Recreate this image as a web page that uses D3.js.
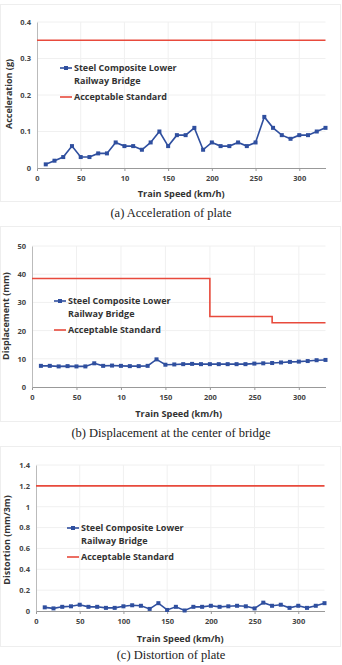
<!DOCTYPE html>
<html>
<head>
<meta charset="utf-8">
<script src="https://cdn.jsdelivr.net/npm/d3@7"></script>
<style>
  body { margin: 0; background: #fff; }
  svg { display: block; }
  .tick text { font-family: "Open Sans", sans-serif; font-weight: 700; font-size: 7.5px; fill: #444; }
</style>
</head>
<body>
<svg id="fig" width="342" height="665"></svg>
<script>
// train speeds (km/h)
const speeds = d3.range(10, 331, 10);

// (a) acceleration of plate (g)
const accel = [0.01, 0.02, 0.03, 0.06, 0.03, 0.03, 0.04, 0.04, 0.07, 0.06, 0.06, 0.05, 0.07, 0.10, 0.06, 0.09, 0.09,
  0.11, 0.05, 0.07, 0.06, 0.06, 0.07, 0.06, 0.07, 0.14, 0.11, 0.09, 0.08, 0.09, 0.09, 0.10, 0.11];
const accelLimit = [[0, 0.35], [330, 0.35]];

// (b) displacement at center (mm)
const disp = [7.5, 7.5, 7.3, 7.4, 7.3, 7.3, 8.4, 7.5, 7.6, 7.5, 7.4, 7.4, 7.5, 9.8, 7.9, 8.0, 8.1,
  8.2, 8.1, 8.1, 8.1, 8.1, 8.1, 8.1, 8.3, 8.4, 8.5, 8.7, 8.9, 9.0, 9.2, 9.5, 9.6];
const dispLimit = [[0, 38.5], [200, 38.5], [200, 25], [270, 25], [270, 22.8], [330, 22.8]];

// (c) distortion of plate (mm/3m)
const dist = [0.035, 0.025, 0.04, 0.045, 0.06, 0.04, 0.04, 0.03, 0.03, 0.045, 0.055, 0.05, 0.02, 0.075, 0.01, 0.04, 0.005,
  0.04, 0.04, 0.05, 0.04, 0.045, 0.05, 0.045, 0.025, 0.08, 0.05, 0.06, 0.03, 0.05, 0.03, 0.05, 0.075];
const distLimit = [[0, 1.2], [330, 1.2]];

const xTicks = [0, 50, 100, 150, 200, 250, 300];
const xTickLabelsAB = ["0", "50", "10", "150", "200", "250", "300"];
const xTickLabelsC = ["0", "50", "100", "150", "200", "250", "300"];

const blue = "#2f4f9f";
const red = "#e84a3c";
const svg = d3.select("#fig");

function drawChart(c) {
  const g = svg.append("g");

  g.append("rect")
    .attr("x", 0.5).attr("y", c.panelTop + 0.5)
    .attr("width", 340).attr("height", c.panelBottom - c.panelTop)
    .attr("fill", "none").attr("stroke", "#eeeeee");

  const x = d3.scaleLinear().domain([0, 330]).range([c.left, c.right]);
  const y = d3.scaleLinear().domain([0, c.yMax]).range([c.bottom, c.top]);

  // grid
  g.append("g").selectAll("line").data(c.yTicks.slice(1)).join("line")
    .attr("x1", c.left).attr("x2", c.right)
    .attr("y1", d => y(d)).attr("y2", d => y(d))
    .attr("stroke", "#f0f0f0");
  g.append("g").selectAll("line").data(xTicks.slice(1)).join("line")
    .attr("x1", d => x(d)).attr("x2", d => x(d))
    .attr("y1", c.top).attr("y2", c.bottom)
    .attr("stroke", "#f0f0f0");

  const xAxis = g.append("g")
    .attr("transform", `translate(0,${c.bottom})`)
    .call(d3.axisBottom(x).tickValues(xTicks).tickSize(3).tickSizeOuter(0)
      .tickFormat((d, i) => c.xLabels[i]));
  xAxis.select(".domain").attr("stroke", "#999");
  xAxis.selectAll(".tick line").attr("stroke", "#999");
  xAxis.selectAll(".tick text").attr("dy", "0.9em");

  const yAxis = g.append("g")
    .attr("transform", `translate(${c.left},0)`)
    .call(d3.axisLeft(y).tickValues(c.yTicks).tickSize(0).tickPadding(6)
      .tickFormat(c.yFormat));
  yAxis.select(".domain").attr("stroke", "#bbb");

  // limit line
  g.append("path")
    .datum(c.limit)
    .attr("fill", "none").attr("stroke", red).attr("stroke-width", 1.6)
    .attr("d", d3.line().x(d => x(d[0])).y(d => y(d[1])));

  // series
  const pts = speeds.map((s, i) => [s, c.values[i]]);
  g.append("path")
    .datum(pts)
    .attr("fill", "none").attr("stroke", blue).attr("stroke-width", 1.6)
    .attr("d", d3.line().x(d => x(d[0])).y(d => y(d[1])));
  g.append("g").selectAll("rect").data(pts).join("rect")
    .attr("x", d => x(d[0]) - 2).attr("y", d => y(d[1]) - 2)
    .attr("width", 4).attr("height", 4).attr("fill", blue);

  // axis titles
  g.append("text")
    .attr("x", (c.left + c.right) / 2).attr("y", c.xTitleY)
    .attr("text-anchor", "middle")
    .style("font", "700 9.2px 'Open Sans', sans-serif").attr("fill", "#333")
    .text("Train Speed (km/h)");
  g.append("text")
    .attr("transform", `translate(${c.yTitleX},${c.yTitleY}) rotate(-90)`)
    .attr("text-anchor", "middle")
    .style("font", "700 9px 'Open Sans', sans-serif").attr("fill", "#333")
    .text(c.yTitle);

  // legend
  const lg = g.append("g").attr("transform", `translate(${c.legX},${c.legY})`)
    .style("font", "700 9px 'Open Sans', sans-serif").attr("fill", "#333");
  lg.append("line").attr("x1", 0).attr("x2", 12).attr("y1", 0).attr("y2", 0)
    .attr("stroke", blue).attr("stroke-width", 1.6);
  lg.append("rect").attr("x", 4).attr("y", -2).attr("width", 4).attr("height", 4).attr("fill", blue);
  lg.append("text").attr("x", 14).attr("y", 3.2).text("Steel Composite Lower");
  lg.append("text").attr("x", 14).attr("y", 16.2).text("Railway Bridge");
  lg.append("line").attr("x1", 0).attr("x2", 12).attr("y1", 29).attr("y2", 29)
    .attr("stroke", red).attr("stroke-width", 1.6);
  lg.append("text").attr("x", 14).attr("y", 32.2).text("Acceptable Standard");

  // caption
  g.append("text")
    .attr("x", 171).attr("y", c.captionY)
    .attr("text-anchor", "middle")
    .style("font", "12.5px 'Liberation Serif', 'Times New Roman', serif").attr("fill", "#222")
    .text(c.caption);
}

drawChart({
  panelTop: 4, panelBottom: 201,
  left: 37, right: 325.5, top: 22, bottom: 168,
  yMax: 0.4, yTicks: [0, 0.1, 0.2, 0.3, 0.4], yFormat: d3.format(".1~f"),
  values: accel, limit: accelLimit, xLabels: xTickLabelsAB,
  xTitleY: 197, yTitleX: 12, yTitleY: 94, yTitle: "Acceleration (g)",
  legX: 60, legY: 68,
  captionY: 217, caption: "(a) Acceleration of plate"
});

drawChart({
  panelTop: 226, panelBottom: 421,
  left: 32, right: 325.5, top: 246, bottom: 387,
  yMax: 50, yTicks: [0, 10, 20, 30, 40, 50], yFormat: d3.format("d"),
  values: disp, limit: dispLimit, xLabels: xTickLabelsAB,
  xTitleY: 417, yTitleX: 9, yTitleY: 316, yTitle: "Displacement (mm)",
  legX: 54, legY: 301,
  captionY: 437, caption: "(b) Displacement at the center of bridge"
});

drawChart({
  panelTop: 446, panelBottom: 646,
  left: 36, right: 324.5, top: 465, bottom: 611,
  yMax: 1.4, yTicks: [0, 0.2, 0.4, 0.6, 0.8, 1, 1.2, 1.4], yFormat: d3.format(".1~f"),
  values: dist, limit: distLimit, xLabels: xTickLabelsC,
  xTitleY: 642, yTitleX: 10, yTitleY: 540, yTitle: "Distortion  (mm/3m)",
  legX: 67, legY: 528,
  captionY: 659, caption: "(c) Distortion of plate"
});
</script>
</body>
</html>
